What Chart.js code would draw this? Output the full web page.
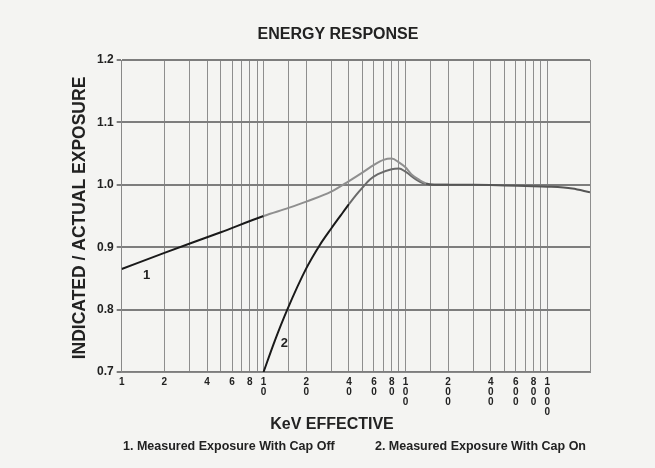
<!DOCTYPE html>
<html>
<head>
<meta charset="utf-8">
<script src="https://cdn.jsdelivr.net/npm/chart.js@4.4.1/dist/chart.umd.min.js"></script>
<style>
  html, body { margin: 0; padding: 0; background: #f4f4f2; }
  #wrap { width: 655px; height: 468px; }
</style>
</head>
<body>
<div id="wrap"><canvas id="energy_chart"></canvas></div>
<script>
// KeV effective (log axis) and indicated / actual exposure
var kev_cap_off = [1, 2, 5, 10, 15, 20, 30, 40, 50, 60, 70, 80, 90, 100, 110, 125, 140, 160, 200, 300, 500, 700, 1000, 1500, 2000];
var resp_cap_off = [0.865, 0.891, 0.924, 0.950, 0.963, 0.973, 0.989, 1.006, 1.020, 1.032, 1.040, 1.042, 1.036, 1.028, 1.017, 1.008, 1.002, 1.000, 1.000, 1.000, 0.999, 0.998, 0.997, 0.994, 0.988];

var kev_cap_on = [10, 12, 14.7, 20, 25, 30, 35, 40, 45, 50, 56, 64, 80, 90, 100, 120, 135, 160, 200];
var resp_cap_on = [0.700, 0.750, 0.800, 0.866, 0.904, 0.930, 0.951, 0.969, 0.984, 0.996, 1.008, 1.017, 1.025, 1.026, 1.021, 1.008, 1.002, 1.000, 1.000];

var y_ticks = [0.7, 0.8, 0.9, 1.0, 1.1, 1.2];
var x_labelled = [1, 2, 4, 6, 8, 10, 20, 40, 60, 80, 100, 200, 400, 600, 800, 1000];

var curve_marks = [
  { text: '1', x: 1.5, y: 0.855 },
  { text: '2', x: 14, y: 0.746 }
];

var legend_notes = ['1. Measured Exposure With Cap Off', '2. Measured Exposure With Cap On'];

var FONT = '"Liberation Sans", Arial, sans-serif';

function toPoints(xs, ys) {
  var pts = [];
  for (var i in xs) {
    pts.push({ x: xs[i], y: ys[i] });
  }
  return pts;
}

// curve numbers, titles and the key line, placed as in the scan
var chartText = {
  id: 'chartText',
  afterDraw: function(chart) {
    var ctx = chart.ctx;
    var xs = chart.scales.x, ys = chart.scales.y;
    ctx.save();
    ctx.fillStyle = '#222';
    ctx.textAlign = 'center';
    ctx.textBaseline = 'middle';
    ctx.font = 'bold 13px ' + FONT;
    curve_marks.forEach(function(m) {
      ctx.fillText(m.text, xs.getPixelForValue(m.x), ys.getPixelForValue(m.y));
    });
    ctx.font = 'bold 16px ' + FONT;
    ctx.fillText('ENERGY RESPONSE', 338, 35);
    ctx.fillText('KeV EFFECTIVE', 332, 425);
    ctx.font = 'bold 12.5px ' + FONT;
    ctx.textAlign = 'left';
    ctx.fillText(legend_notes[0], 123, 447);
    ctx.textAlign = 'right';
    ctx.fillText(legend_notes[1], 586, 447);
    ctx.textAlign = 'center';
    ctx.font = 'bold 17.5px ' + FONT;
    ctx.translate(80, 218);
    ctx.rotate(-Math.PI / 2);
    ctx.fillText('INDICATED / ACTUAL EXPOSURE', 0, 0);
    ctx.restore();
  }
};

var ctx = document.getElementById('energy_chart');

var chart = new Chart(ctx, {
  type: 'line',
  data: {
    datasets: [
      {
        label: legend_notes[0],
        data: toPoints(kev_cap_off, resp_cap_off),
        borderWidth: 2,
        pointRadius: 0,
        cubicInterpolationMode: 'monotone',
        borderColor: '#222',
        segment: {
          borderColor: function(c) {
            var x = c.p0.parsed.x;
            if (x < 10) return '#1a1a1a';
            if (x < 140) return '#8f8f8f';
            return '#555';
          }
        }
      },
      {
        label: legend_notes[1],
        data: toPoints(kev_cap_on, resp_cap_on),
        borderWidth: 2,
        pointRadius: 0,
        cubicInterpolationMode: 'monotone',
        borderColor: '#222',
        segment: {
          borderColor: function(c) {
            return c.p0.parsed.x < 40 ? '#1a1a1a' : '#6a6a6a';
          }
        }
      }
    ]
  },
  options: {
    responsive: true,
    maintainAspectRatio: false,
    animation: false,
    layout: { padding: { top: 60, left: 94, right: 65, bottom: 46 } },
    plugins: {
      legend: { display: false },
      tooltip: { enabled: false }
    },
    scales: {
      x: {
        type: 'logarithmic',
        min: 1,
        max: 2000,
        border: { display: true, color: '#888', width: 1 },
        grid: { color: '#8e8e8e', lineWidth: 1, drawTicks: false },
        afterBuildTicks: function(axis) {
          axis.ticks = axis.ticks.filter(function(t) { return t.value <= 1000 || t.value >= 2000; });
        },
        ticks: {
          autoSkip: false,
          maxRotation: 0,
          padding: 5,
          color: '#222',
          font: { family: FONT, size: 10, weight: 'bold', lineHeight: 1.0 },
          callback: function(value) {
            if (x_labelled.indexOf(value) < 0) return '';
            return String(value).split('');
          }
        }
      },
      y: {
        min: 0.7,
        max: 1.2,
        border: { display: true, color: '#888', width: 1 },
        grid: { color: '#7d7d7d', lineWidth: 2, drawTicks: true, tickLength: 5 },
        afterBuildTicks: function(axis) {
          axis.ticks = y_ticks.map(function(v) { return { value: v }; });
        },
        ticks: {
          padding: 3,
          color: '#222',
          font: { family: FONT, size: 12, weight: 'bold' },
          callback: function(value) { return Number(value).toFixed(1); }
        }
      }
    }
  },
  plugins: [chartText]
});
</script>
</body>
</html>
